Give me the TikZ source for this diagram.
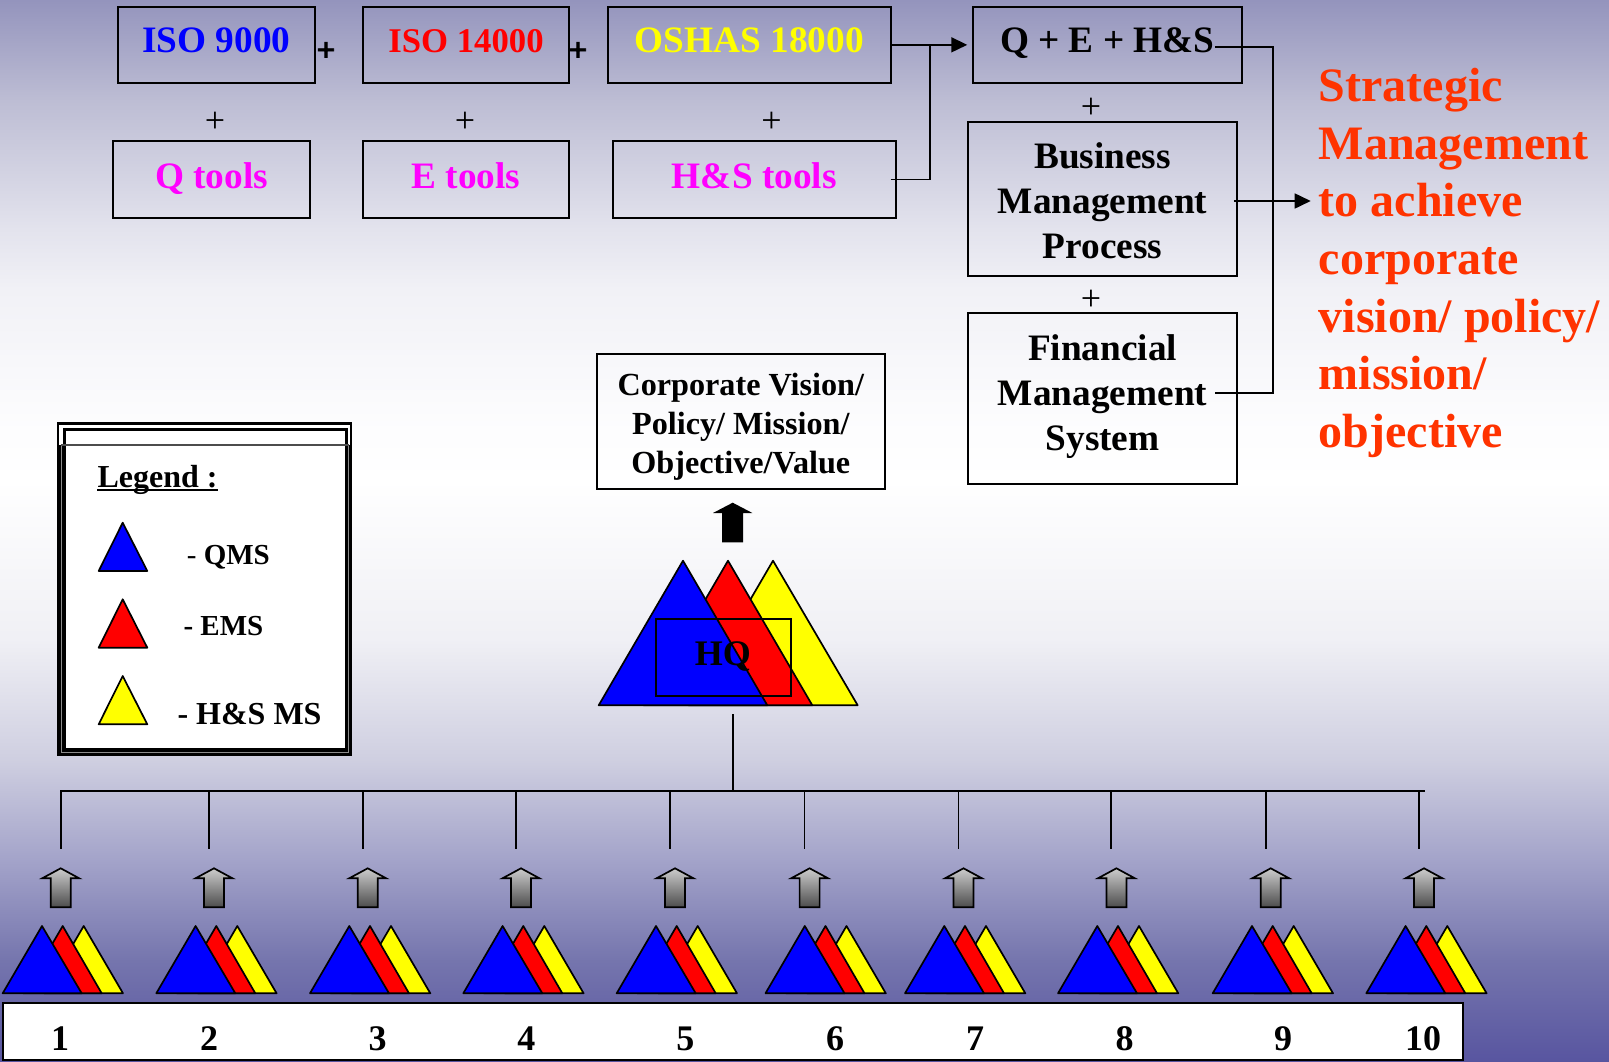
\documentclass[tikz,border=0pt]{standalone}
\usepackage{fontspec}
\setmainfont{Liberation Serif}
\usetikzlibrary{shapes, arrows.meta}
\pgfdeclareverticalshading{pagefade}{100bp}{
  rgb(0bp)=(0.345,0.333,0.627);
  rgb(25bp)=(0.345,0.333,0.627);
  rgb(29.8bp)=(0.46,0.46,0.68);
  rgb(34.5bp)=(0.64,0.64,0.79);
  rgb(39.2bp)=(0.81,0.81,0.88);
  rgb(44.9bp)=(0.94,0.94,0.96);
  rgb(52.4bp)=(1,1,1);
  rgb(55bp)=(0.99,0.99,0.995);
  rgb(61.4bp)=(0.945,0.945,0.965);
  rgb(64.2bp)=(0.89,0.89,0.93);
  rgb(70.3bp)=(0.74,0.74,0.83);
  rgb(75bp)=(0.58,0.58,0.74);
  rgb(100bp)=(0.58,0.58,0.74)}
\definecolor{tomato}{RGB}{255,51,0}
\definecolor{qblue}{RGB}{0,0,255}
\definecolor{ered}{RGB}{255,0,0}
\definecolor{hyellow}{RGB}{255,255,0}
\definecolor{toolpink}{RGB}{255,0,255}
\tikzset{
  every tri/.style={
    draw=black,
    line width=1.7pt,
    line join=round
  },
  grayarrow/.style={
    draw=black,
    line width=1.7pt,
    top color=black!20,
    bottom color=black!70
  },
}
\tikzstyle{block} = [rectangle, draw=black, line width=1.8pt, inner sep=0pt, outer sep=0pt, font=\fontsize{37.3}{45}\selectfont\bfseries, align=center]
\tikzstyle{upper} = [block, minimum width=197.3pt, minimum height=76.3pt, text height=24pt, text depth=8pt]
\tikzstyle{tool} = [block, text=toolpink, minimum height=76.7pt, text height=26pt, text depth=8pt]
\tikzstyle{plain} = [inner sep=0pt, font=\fontsize{36}{36}\selectfont]
\tikzstyle{heavyplus} = [inner sep=0pt, font=\fontsize{33}{36}\selectfont\bfseries\addfontfeatures{FakeBold=2.5}]
\tikzstyle{legendtext} = [inner sep=0pt, anchor=base west, font=\fontsize{29}{32}\selectfont\bfseries]
\tikzstyle{line} = [draw, line width=1.7pt]
\tikzstyle{arrow} = [line, -{Triangle[length=16pt,width=15pt]}]

\begin{document}
\begin{tikzpicture}[x=1pt, y=-1pt, node distance=134.5pt, auto]
	\useasboundingbox (0,0) rectangle (1609,1062);
	\shade[shading=pagefade] (0,0) rectangle (1609,1062);

	% blocks
	\node [upper, text=qblue] (iso9000) at (216.3,44.85) {ISO 9000};
	\node [upper, text=ered, font=\fontsize{34.7}{40}\selectfont\bfseries, minimum width=205.7pt] (iso14000) at (466,44.85) {ISO 14000};
	\node [upper, text=hyellow, minimum width=283.3pt] (oshas) at (749.3,44.85) {OSHAS 18000};
	\node [upper, minimum width=269.3pt] (qehs) at (1107.3,44.85) {Q + E + H\&S};
	\node [tool, below of=iso9000, minimum width=197.3pt, xshift=-4.8pt] (qtools) {Q tools};
	\node [tool, below of=iso14000, minimum width=205.7pt] (etools) {E tools};
	\node [tool, below of=oshas, minimum width=283.4pt, xshift=5pt] (hstools) {H\&S tools};
	\node [block, below of=qehs, minimum width=269pt, minimum height=154pt, text height=123pt, text depth=3pt, xshift=-4.7pt, yshift=-19.35pt] (bizproc) {Business\\Management\\Process};
	\node [block, below of=bizproc, minimum width=269pt, minimum height=171pt, text height=107pt, text depth=2.6pt, yshift=-65.3pt] (finmgmt) {Financial\\Management\\System};
	\node [block, font=\fontsize{32.2}{39}\selectfont\bfseries, minimum width=288.3pt, minimum height=135pt, text height=108pt, text depth=4pt] (vision) at (740.8,421.5) {Corporate Vision/\\Policy/ Mission/\\Objective/Value};

	% plus signs
	\node [heavyplus] (plusa) at (326,51.5) {+};
	\node [heavyplus] (plusb) at (578,51.5) {+};
	\node [plain] (plusc) at (215,122) {+};
	\node [plain] (plusd) at (465,122) {+};
	\node [plain] (pluse) at (771.6,122) {+};
	\node [plain] (plusf) at (1091,108.7) {+};
	\node [plain] (plusg) at (1091,300.6) {+};

	% outcome text
	\node [inner sep=0pt, anchor=base west, align=left, text=tomato, font=\fontsize{48}{57.6}\selectfont\bfseries] (strategic) at (1318.6,447.3) {Strategic\\Management\\to achieve\\corporate\\vision/ policy/\\mission/\\objective};

	% arrows
	\coordinate (merge) at (930,44.85);
	\coordinate (bend) at (1273.3,393);
	\coordinate (goal) at (1310.7,201);
	\draw [arrow, shorten >=5.4pt] (oshas) -- (qehs);
	\draw [line] ([xshift=-5.3pt]hstools.east) -| (merge);
	\draw [line] ([xshift=-27pt,yshift=-2.5pt]qehs.east) -| (bend) -- ([xshift=-22.3pt,yshift=5.5pt]finmgmt.east);
	\draw [arrow] ([xshift=-3.3pt,yshift=-2.3pt]bizproc.east) -- (goal);

	% legend
	\draw [fill=white, line width=2.4pt] (58.2,423.5) rectangle (351.2,755.2);
	\fill [black] (58.2,445) rectangle (351.2,755.2);
	\draw [black!45, line width=.7pt] (61.3,445) -- (61.3,752.5) -- (348.5,752.5) -- (348.5,445);
	\draw [fill=white, line width=2.4pt] (64.4,429.5) rectangle (346.3,749.6);
	\draw [black!70, line width=1.5pt] (61,444.8) -- (349,444.8);
	\node [legendtext, font=\fontsize{32}{32}\selectfont\bfseries] (legendhead) at (97.3,487.3) {Legend :};
	\draw [line width=2pt] ([yshift=-3pt]legendhead.base west) -- ([yshift=-3pt]legendhead.base east);
	\draw [every tri, fill=qblue] (122.7,522.7) -- (98.7,571) -- (147.3,571) -- cycle;
	\draw [every tri, fill=ered] (122.7,599.3) -- (98.7,647.7) -- (147.3,647.7) -- cycle;
	\draw [every tri, fill=hyellow] (122.7,676) -- (98.7,724.3) -- (147.3,724.3) -- cycle;
	\node [legendtext] (legendq) at (186.7,564) {{\mdseries -} QMS};
	\node [legendtext] (legende) at (183.3,635) {- EMS};
	\node [legendtext, font=\fontsize{32}{32}\selectfont\bfseries] (legendh) at (177.3,724) {- H\&S MS};

	% headquarters
	\fill [black] (722.2,542.3) -- (722.2,513) -- (713,513) -- (732.7,502.7) -- (752.4,513) -- (743.2,513) -- (743.2,542.3) -- cycle;
	\draw [every tri, fill=hyellow] (773,560.7) -- (688.7,705.3) -- (857.7,705.3) -- cycle;
	\draw [every tri, fill=ered] (728,560.7) -- (643.7,705.3) -- (812.3,705.3) -- cycle;
	\draw [every tri, fill=qblue] (683,560.7) -- (598.7,705.3) -- (767.3,705.3) -- cycle;
	\node [rectangle, draw=black, line width=1.7pt, inner sep=0pt, minimum width=134.7pt, minimum height=77pt, font=\fontsize{36}{36}\selectfont\bfseries, text height=24pt, text depth=8pt] (hq) at (723.3,657.2) {\hspace{-1pt}HQ};

	% distribution lines
	\coordinate (hqfoot) at (732.7,714);
	\coordinate (busleft) at (60,791);
	\coordinate (busright) at (1425,791);
	\draw [line] (busleft) -- (busright);
	\draw [line] (hqfoot) -- (hqfoot |- busleft);

	% sites
	\node [rectangle, draw=black, fill=white, line width=2.2pt, inner sep=0pt, minimum width=1460.3pt, minimum height=57.3pt] (sitebar) at (732.85,1031.35) {};
	\foreach \n/\dx/\ax/\tx/\nx in {1/60.7/60.7/2.7/60, 2/209.3/214/156.3/209, 3/363/367.7/310/377.7, 4/516/521/463.3/526.4, 5/670/675/616.7/685.4, 6/804.5/809.6/765.5/835, 7/958.4/963.5/905/975, 8/1111.3/1116.4/1058/1124.6, 9/1266/1270.7/1212.7/1283, 10/1419/1424/1366.3/1423} {
		\coordinate (drop\n) at (\dx,849.3);
		\draw [line] (drop\n |- busleft) -- (drop\n);
		\draw [grayarrow] (\ax-10,907.3) -- (\ax-10,878.3) -- (\ax-18.5,878.3) -- (\ax,868.3) -- (\ax+18.5,878.3) -- (\ax+10,878.3) -- (\ax+10,907.3) -- cycle;
		\draw [every tri, fill=hyellow] (\tx+81,926) -- (\tx+41.7,993.3) -- (\tx+120.3,993.3) -- cycle;
		\draw [every tri, fill=ered] (\tx+60,926) -- (\tx+20.7,993.3) -- (\tx+99,993.3) -- cycle;
		\draw [every tri, fill=qblue] (\tx+39.3,926) -- (\tx,993.3) -- (\tx+79,993.3) -- cycle;
		\node [inner sep=0pt, anchor=base, font=\fontsize{36}{36}\selectfont\bfseries] (site\n) at (\nx,1050) {\n};
	}
\end{tikzpicture}
\end{document}
